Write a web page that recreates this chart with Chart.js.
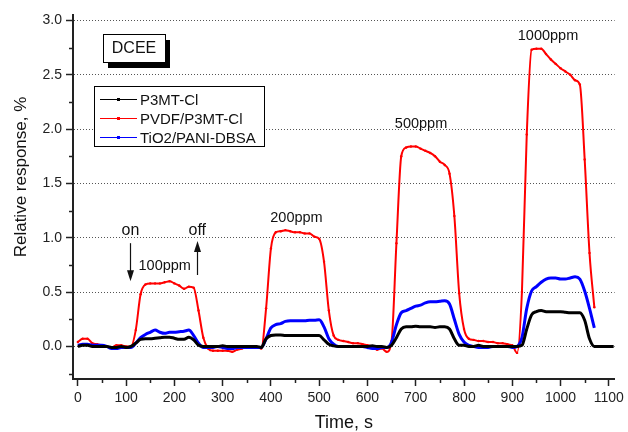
<!DOCTYPE html>
<html>
<head>
<meta charset="utf-8">
<title>DCEE relative response</title>
<script src="https://cdn.jsdelivr.net/npm/chart.js@4.4.0/dist/chart.umd.min.js"></script>
<style>
    html, body { margin: 0; padding: 0; background: #ffffff; }
    #wrap { width: 628px; height: 432px; }
</style>
</head>
<body>
<div id="wrap"><canvas id="chartResponse" width="628" height="432"></canvas></div>
<script>
// sampling times, s
var times = [
    0, 10, 20, 30, 40, 50, 60, 70, 80, 90,
    100, 110, 120, 130, 140, 150, 160, 170, 180, 190,
    200, 210, 220, 230, 240, 250, 260, 270, 280, 290,
    300, 310, 320, 330, 340, 350, 360, 370, 380, 390,
    400, 410, 420, 430, 440, 450, 460, 470, 480, 490,
    500, 510, 520, 530, 540, 550, 560, 570, 580, 590,
    600, 610, 620, 630, 640, 650, 660, 670, 680, 690,
    700, 710, 720, 730, 740, 750, 760, 770, 780, 790,
    800, 810, 820, 830, 840, 850, 860, 870, 880, 890,
    900, 910, 920, 930, 940, 950, 960, 970, 980, 990,
    1000, 1010, 1020, 1030, 1040, 1050, 1060, 1070, 1080, 1090,
    1100, 1110
];

var seriesNames = ["P3MT-Cl", "PVDF/P3MT-Cl", "TiO2/PANI-DBSA"];
var seriesColors = ["#000000", "#ff0000", "#0000ff"];

// relative response, %
var p3mtCl = [
    0.00, 0.01, 0.01, 0.00, 0.00, 0.00, 0.00, -0.01, -0.01, 0.00,
    -0.01, 0.00, 0.03, 0.065, 0.07, 0.07, 0.075, 0.08, 0.085, 0.085,
    0.075, 0.065, 0.065, 0.085, 0.06, 0.01, 0.00, 0.00, 0.00, 0.00,
    0.005, 0.00, 0.00, 0.00, 0.00, 0.00, 0.00, 0.00, -0.01, 0.07,
    0.10, 0.105, 0.105, 0.10, 0.10, 0.10, 0.10, 0.10, 0.10, 0.10,
    0.10, 0.06, 0.02, 0.005, 0.00, 0.00, 0.00, 0.00, 0.00, 0.00,
    0.00, 0.005, 0.00, 0.00, -0.01, 0.01, 0.08, 0.16, 0.18, 0.18,
    0.185, 0.18, 0.18, 0.18, 0.175, 0.18, 0.18, 0.16, 0.07, 0.01,
    0.01, 0.00, 0.00, 0.01, 0.00, 0.00, 0.00, 0.00, 0.00, 0.00,
    0.00, 0.00, 0.01, 0.16, 0.29, 0.32, 0.33, 0.32, 0.32, 0.32,
    0.32, 0.315, 0.31, 0.31, 0.31, 0.24, 0.07, 0.00, 0.00, 0.00,
    0.00, 0.00
];

var pvdfP3mtCl = [
    0.04, 0.07, 0.07, 0.03, 0.02, 0.01, 0.00, -0.01, 0.01, 0.01,
    0.00, 0.00, 0.15, 0.48, 0.57, 0.58, 0.58, 0.58, 0.59, 0.60,
    0.58, 0.56, 0.53, 0.55, 0.54, 0.33, 0.08, -0.02, -0.04, -0.04,
    -0.04, -0.04, -0.05, -0.03, -0.02, -0.01, -0.01, 0.00, -0.02, 0.35,
    0.90, 1.05, 1.06, 1.07, 1.06, 1.05, 1.05, 1.04, 1.04, 1.01,
    0.99, 0.78, 0.33, 0.10, 0.06, 0.05, 0.04, 0.03, 0.03, 0.02,
    0.01, 0.00, -0.03, -0.02, -0.05, 0.05, 0.95, 1.75, 1.83, 1.84,
    1.84, 1.82, 1.80, 1.78, 1.75, 1.70, 1.67, 1.59, 1.20, 0.49,
    0.16, 0.07, 0.06, 0.05, 0.05, 0.04, 0.04, 0.03, 0.03, 0.02,
    0.01, -0.06, 0.50, 1.95, 2.73, 2.74, 2.74, 2.69, 2.64, 2.60,
    2.56, 2.53, 2.50, 2.45, 2.41, 1.72, 0.86, 0.36, null, null,
    null, null
];

var tio2PaniDbsa = [
    0.01, 0.02, 0.02, 0.01, 0.01, 0.01, 0.00, -0.02, -0.02, -0.01,
    -0.01, -0.01, 0.03, 0.08, 0.11, 0.13, 0.15, 0.13, 0.12, 0.13,
    0.13, 0.135, 0.14, 0.15, 0.10, 0.03, -0.01, -0.01, -0.01, 0.00,
    -0.01, -0.02, -0.02, -0.01, -0.01, -0.01, -0.01, -0.01, -0.01, 0.07,
    0.17, 0.20, 0.21, 0.23, 0.235, 0.235, 0.235, 0.235, 0.24, 0.24,
    0.245, 0.18, 0.07, 0.02, 0.00, 0.00, 0.00, 0.00, 0.00, 0.00,
    -0.01, -0.02, -0.02, -0.01, -0.01, 0.04, 0.20, 0.31, 0.33, 0.35,
    0.37, 0.38, 0.40, 0.41, 0.41, 0.415, 0.42, 0.39, 0.25, 0.11,
    0.04, 0.01, 0.00, -0.01, -0.01, -0.01, 0.00, 0.00, 0.00, 0.00,
    -0.01, 0.00, 0.08, 0.35, 0.51, 0.55, 0.59, 0.62, 0.63, 0.63,
    0.62, 0.62, 0.63, 0.64, 0.62, 0.51, 0.35, 0.17, null, null,
    null, null
];

var xTicks = [0, 100, 200, 300, 400, 500, 600, 700, 800, 900, 1000, 1100];
var xMinorTicks = [50, 150, 250, 350, 450, 550, 650, 750, 850, 950, 1050];
var yTicks = [0, 0.5, 1.0, 1.5, 2.0, 2.5, 3.0];
var yMinorTicks = [-0.25, 0.25, 0.75, 1.25, 1.75, 2.25, 2.75];

// concentration labels: [text, time, response]
var ppmLabels = [
    ["100ppm", 180, 0.70],
    ["200ppm", 453, 1.145],
    ["500ppm", 711, 2.01],
    ["1000ppm", 974, 2.817]
];

var fontFamily = "'Liberation Sans', Arial, Helvetica, sans-serif";

function toPoints(values) {
    return times.map(function (t, i) {
        return { x: t, y: values[i] };
    });
}

function drawArrow(ctx, x, yFrom, yTo) {
    var dir = yTo > yFrom ? 1 : -1;
    ctx.beginPath();
    ctx.moveTo(x, yFrom);
    ctx.lineTo(x, yTo - dir * 9);
    ctx.stroke();
    ctx.beginPath();
    ctx.moveTo(x, yTo);
    ctx.lineTo(x - 3.5, yTo - dir * 11);
    ctx.lineTo(x + 3.5, yTo - dir * 11);
    ctx.closePath();
    ctx.fill();
}

var extrasPlugin = {
    id: 'extras',
    afterDraw: function (chart) {
        var ctx = chart.ctx;
        var xs = chart.scales.x;
        var ys = chart.scales.y;
        var ca = chart.chartArea;
        ctx.save();

        // minor ticks
        ctx.strokeStyle = '#222';
        ctx.lineWidth = 1.5;
        xMinorTicks.forEach(function (v) {
            var px = Math.round(xs.getPixelForValue(v)) + 0.5;
            ctx.beginPath();
            ctx.moveTo(px, ca.bottom);
            ctx.lineTo(px, ca.bottom + 4);
            ctx.stroke();
        });
        yMinorTicks.forEach(function (v) {
            var py = Math.round(ys.getPixelForValue(v)) + 0.5;
            ctx.beginPath();
            ctx.moveTo(ca.left - 4, py);
            ctx.lineTo(ca.left, py);
            ctx.stroke();
        });

        // y axis title
        ctx.fillStyle = '#111';
        ctx.font = '17px ' + fontFamily;
        ctx.textAlign = 'center';
        ctx.textBaseline = 'middle';
        ctx.save();
        ctx.translate(21, 177);
        ctx.rotate(-Math.PI / 2);
        ctx.fillText('Relative response, %', 0, 0);
        ctx.restore();

        // DCEE box with shadow
        var bx = ca.left + 30, by = ca.top + 19, bw = 62, bh = 28;
        ctx.fillStyle = '#000';
        ctx.fillRect(bx + 5, by + 6, bw, bh);
        ctx.fillStyle = '#fff';
        ctx.fillRect(bx, by, bw, bh);
        ctx.strokeStyle = '#000';
        ctx.lineWidth = 1;
        ctx.strokeRect(bx + 0.5, by + 0.5, bw, bh);
        ctx.fillStyle = '#111';
        ctx.font = '16px ' + fontFamily;
        ctx.textAlign = 'center';
        ctx.textBaseline = 'middle';
        ctx.fillText('DCEE', bx + bw / 2, by + bh / 2 + 1);

        // legend
        var lx = ca.left + 21, ly = ca.top + 71, lw = 170, lh = 60;
        ctx.fillStyle = '#fff';
        ctx.fillRect(lx, ly, lw, lh);
        ctx.strokeStyle = '#000';
        ctx.lineWidth = 1;
        ctx.strokeRect(lx + 0.5, ly + 0.5, lw, lh);
        ctx.font = '15px ' + fontFamily;
        ctx.textAlign = 'left';
        ctx.textBaseline = 'middle';
        seriesNames.forEach(function (name, i) {
            var ry = ly + 13.5 + i * 19;
            ctx.strokeStyle = seriesColors[i];
            ctx.beginPath();
            ctx.moveTo(lx + 6, ry);
            ctx.lineTo(lx + 43, ry);
            ctx.stroke();
            ctx.fillStyle = seriesColors[i];
            ctx.fillRect(lx + 23, ry - 1.5, 3, 3);
            ctx.fillStyle = '#111';
            ctx.fillText(name, lx + 46, ry + 1);
        });

        // exposure marks
        ctx.fillStyle = '#111';
        ctx.strokeStyle = '#111';
        ctx.lineWidth = 1.2;
        ctx.font = '16px ' + fontFamily;
        ctx.textAlign = 'center';
        ctx.textBaseline = 'alphabetic';
        var onX = xs.getPixelForValue(109), offX = xs.getPixelForValue(247.5);
        var textY = ys.getPixelForValue(1.025);
        ctx.fillText('on', onX, textY);
        ctx.fillText('off', offX, textY);
        drawArrow(ctx, Math.round(onX) + 0.5, ys.getPixelForValue(0.95), ys.getPixelForValue(0.60));
        drawArrow(ctx, Math.round(offX) + 0.5, ys.getPixelForValue(0.657), ys.getPixelForValue(0.97));

        ctx.font = '14.5px ' + fontFamily;
        ppmLabels.forEach(function (p) {
            ctx.fillText(p[0], xs.getPixelForValue(p[1]), ys.getPixelForValue(p[2]));
        });

        ctx.restore();
    }
};

function drawResponseChart() {
    var ctxResponse = document.getElementById("chartResponse");
    var valueSets = [p3mtCl, pvdfP3mtCl, tio2PaniDbsa];
    var widths = [3, 2, 3];
    var drawOrder = [0, 2, 1];
    var datasets = valueSets.map(function (vals, i) {
        return {
            label: seriesNames[i],
            data: toPoints(vals),
            borderColor: seriesColors[i],
            backgroundColor: seriesColors[i],
            borderWidth: widths[i],
            pointRadius: i === 1 ? 1.2 : 0,
            pointBorderWidth: 0,
            pointBackgroundColor: seriesColors[i],
            cubicInterpolationMode: 'monotone',
            fill: false,
            spanGaps: false,
            order: drawOrder[i]
        };
    });

    var chartResponse = new Chart(ctxResponse, {
        type: 'line',
        data: { datasets: datasets },
        plugins: [extrasPlugin],
        options: {
            responsive: false,
            animation: false,
            events: [],
            layout: { padding: { top: 15, right: 12, left: 0, bottom: 0 } },
            plugins: {
                legend: { display: false },
                tooltip: { enabled: false }
            },
            scales: {
                x: {
                    type: 'linear',
                    min: -10,
                    max: 1112,
                    afterFit: function (s) { s.height = 53; },
                    afterBuildTicks: function (s) {
                        s.ticks = xTicks.map(function (v) { return { value: v }; });
                    },
                    grid: { drawOnChartArea: false, drawTicks: true, tickLength: 7, tickColor: '#222', tickWidth: 1.5 },
                    border: { display: true, color: '#222', width: 2 },
                    ticks: {
                        color: '#222',
                        font: { family: fontFamily, size: 14 },
                        padding: 4,
                        maxRotation: 0,
                        autoSkip: false,
                        callback: function (v) { return String(v); }
                    },
                    title: {
                        display: true,
                        text: 'Time, s',
                        color: '#111',
                        font: { family: fontFamily, size: 18, lineHeight: 1 },
                        padding: 0
                    }
                },
                y: {
                    type: 'linear',
                    min: -0.3,
                    max: 3.05,
                    afterFit: function (s) { s.width = 73; },
                    afterBuildTicks: function (s) {
                        s.ticks = yTicks.map(function (v) { return { value: v }; });
                    },
                    grid: { drawOnChartArea: true, color: '#555', lineWidth: 1, drawTicks: true, tickLength: 7, tickColor: '#222', tickWidth: 1.5 },
                    border: { display: true, color: '#222', width: 2, dash: [1, 2] },
                    ticks: {
                        color: '#222',
                        font: { family: fontFamily, size: 14 },
                        padding: 4,
                        callback: function (v) { return Number(v).toFixed(1); }
                    }
                }
            }
        }
    });
}

drawResponseChart();
</script>
</body>
</html>
